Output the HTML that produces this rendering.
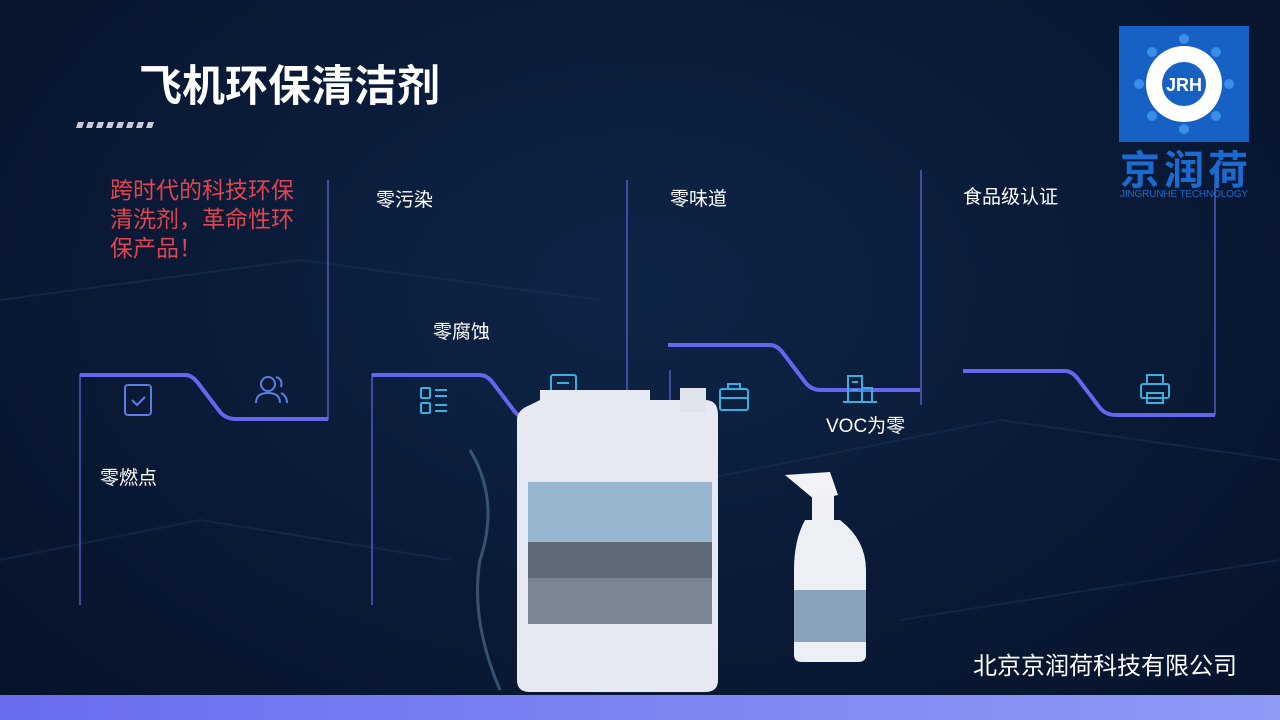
<!DOCTYPE html>
<html><head><meta charset="utf-8"><style>
*{margin:0;padding:0}
body{width:1280px;height:720px;overflow:hidden;background:radial-gradient(ellipse at 50% 40%,#0e2447 0%,#0a1a36 55%,#06122a 100%);position:relative;font-family:"Liberation Sans","Noto Sans CJK SC",sans-serif;color:#fff}
.t{position:absolute;font-size:19px;color:#fff;white-space:nowrap}
</style></head><body>
<svg width="1280" height="720" style="position:absolute;left:0;top:0">
<g stroke="#1c3458" stroke-width="2" fill="none" opacity="0.5">
<path d="M0 300 L300 260 L600 300"/><path d="M700 480 L1000 420 L1280 460"/><path d="M0 560 L200 520 L450 560"/><path d="M900 620 L1280 560"/>
</g>
<g fill="#c9cbd8"><path d="M78 122h6l-2 6h-6z"/><path d="M88 122h6l-2 6h-6z"/><path d="M98 122h6l-2 6h-6z"/><path d="M108 122h6l-2 6h-6z"/><path d="M118 122h6l-2 6h-6z"/><path d="M128 122h6l-2 6h-6z"/><path d="M138 122h6l-2 6h-6z"/><path d="M148 122h6l-2 6h-6z"/></g>
<g stroke="#6668e6" stroke-width="1.2" fill="none">
<line x1="80" y1="374" x2="80" y2="605"/><line x1="328" y1="180" x2="328" y2="420"/>
<line x1="372" y1="374" x2="372" y2="605"/><line x1="627" y1="180" x2="627" y2="420"/>
<line x1="670" y1="370" x2="670" y2="600"/><line x1="921" y1="170" x2="921" y2="405"/>
<line x1="1215" y1="180" x2="1215" y2="415"/>
</g>
<g stroke="#6466ee" stroke-width="4" fill="none">
<path d="M80 375 H185 Q192 375 198 383 L220 412 Q226 419 236 419 H328"/>
<path d="M372 375 H480 Q487 375 493 383 L515 412 Q521 419 531 419 H627"/>
<path d="M668 345 H770 Q777 345 783 353 L805 382 Q811 390 821 390 H920"/>
<path d="M963 371 H1065 Q1072 371 1078 379 L1100 408 Q1106 415 1116 415 H1215"/>
</g>
<g stroke="#5c7ee0" stroke-width="2" fill="none">
<rect x="125" y="385" width="26" height="30" rx="3"/><path d="M132 400 l5 5 l8 -8"/>
<circle cx="268" cy="384" r="7"/><path d="M256 403 q0 -10 12 -10 q12 0 12 10"/><path d="M276 377 q7 2 5 10 M281 393 q6 3 6 10"/>
</g>
<g stroke="#38b0e0" stroke-width="2" fill="none">
<rect x="421" y="388" width="9" height="10" rx="1"/><rect x="421" y="403" width="9" height="10" rx="1"/><path d="M435 390 h12 M435 396 h12 M435 405 h12 M435 411 h12"/>
<rect x="551" y="375" width="25" height="28" rx="2"/><path d="M557 383 h12"/>
<rect x="720" y="389" width="28" height="21" rx="2"/><path d="M728 389 v-5 h12 v5 M720 398 h28"/>
<path d="M848 402 v-26 h14 v26 M862 388 h10 v14 M843 402 h34 M852 382 h6 M852 390 h6"/>
<rect x="1141" y="384" width="28" height="14" rx="2"/><rect x="1147" y="375" width="16" height="9"/><rect x="1147" y="393" width="16" height="10"/>
</g>
<g>
<path d="M540 390 H650 V400 H705 Q718 400 718 415 V680 Q718 692 705 692 H530 Q517 692 517 680 V420 Q517 410 530 405 L540 400 Z" fill="#e6e9f1"/>
<rect x="680" y="388" width="26" height="24" fill="#dfe3ec"/>
<rect x="528" y="482" width="184" height="142" fill="#5e6a78"/>
<rect x="528" y="482" width="184" height="60" fill="#98b6cf"/>
<rect x="528" y="578" width="184" height="46" fill="#7a8592"/>
<path d="M470 450 Q500 500 480 560 Q470 620 500 690" stroke="#7fa6c8" stroke-width="3" fill="none" opacity="0.4"/>
</g>
<g>
<path d="M785 475 L830 472 L838 495 L815 500 Z" fill="#f2f3f6"/>
<rect x="812" y="495" width="22" height="25" fill="#eef0f4"/>
<path d="M805 520 H840 Q866 540 866 570 V655 Q866 662 858 662 H802 Q794 662 794 655 V570 Q794 540 805 520Z" fill="#eceff4"/>
<rect x="794" y="590" width="72" height="52" fill="#8aa2bd"/>
</g>
<defs><linearGradient id="g"><stop offset="0" stop-color="#6a6cf0"/><stop offset="1" stop-color="#8f9af5"/></linearGradient></defs>
<rect x="0" y="695" width="1280" height="25" fill="url(#g)"/>
<rect x="1119" y="26" width="130" height="116" fill="#1760c4"/>
<circle cx="1184" cy="84" r="38" fill="#fff"/><circle cx="1184" cy="84" r="22" fill="#1760c4"/>
<g fill="#3a8ee8"><circle cx="1184" cy="39" r="5"/><circle cx="1184" cy="129" r="5"/><circle cx="1139" cy="84" r="5"/><circle cx="1229" cy="84" r="5"/><circle cx="1152" cy="52" r="5"/><circle cx="1216" cy="52" r="5"/><circle cx="1152" cy="116" r="5"/><circle cx="1216" cy="116" r="5"/></g>
<text x="1184" y="91" fill="#fff" font-size="18" font-weight="bold" text-anchor="middle" font-family="Liberation Sans">JRH</text>
<text x="1184" y="184" fill="#1a6ad0" font-size="40" font-weight="bold" text-anchor="middle" font-family="Liberation Sans,Noto Sans CJK SC,sans-serif" textLength="128">京润荷</text>
<text x="1184" y="197" fill="#1a6ad0" font-size="10" text-anchor="middle" font-family="Liberation Sans" textLength="128">JINGRUNHE TECHNOLOGY</text>
</svg>
<div class="t" style="left:139px;top:52px;font-size:43px;font-weight:bold">飞机环保清洁剂</div>
<div class="t" style="left:110px;top:176px;font-size:23px;color:#e0454f;line-height:29px;width:200px;white-space:normal">跨时代的科技环保清洗剂，革命性环保产品！</div>
<div class="t" style="left:376px;top:185px">零污染</div>
<div class="t" style="left:670px;top:184px">零味道</div>
<div class="t" style="left:963px;top:182px">食品级认证</div>
<div class="t" style="left:433px;top:317px">零腐蚀</div>
<div class="t" style="left:826px;top:411px">VOC为零</div>
<div class="t" style="left:100px;top:463px">零燃点</div>
<div class="t" style="left:973px;top:646px;font-size:24px">北京京润荷科技有限公司</div>
</body></html>
